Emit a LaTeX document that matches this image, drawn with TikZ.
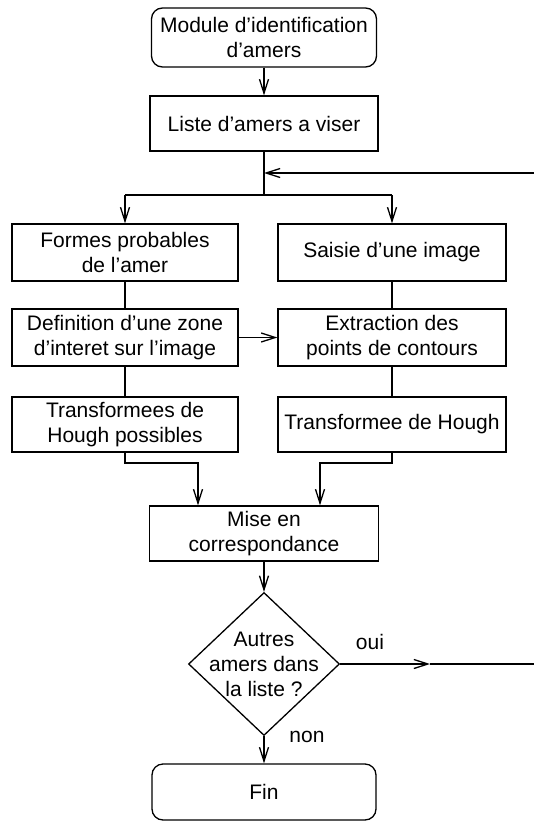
\documentclass[tikz,border=0pt]{standalone}
\usepackage{fontspec}
\setmainfont{Liberation Sans}
\usetikzlibrary{shapes.geometric,arrows.meta}
\tikzset{
    boite/.style={draw, line width=1.3pt, minimum width=228pt, minimum height=56pt, align=center, inner sep=0pt},
    arrondi/.style={boite, rounded corners=11pt},
    losange/.style={draw, diamond, line width=1.3pt, minimum width=151pt, minimum height=143pt, inner sep=0pt},
    >={Straight Barb[length=14pt,width=9pt]},
}
\begin{document}
\begin{tikzpicture}[x=1pt, y=-1pt, line width=1.3pt, font=\fontsize{21}{25}\selectfont]
    \useasboundingbox (0,0) rectangle (534,822);
    % colonne centrale
    \node[arrondi, minimum width=225pt, minimum height=59pt] (start) at (264,37.5) {Module d’identification\\d’amers};
    \node[boite, minimum height=55pt] (liste) at (264,123.5) {Liste d’amers a viser};
    % colonne gauche
    \node[boite, minimum width=226pt, minimum height=57pt] (formes) at (125,252.5) {Formes probables\\de l’amer};
    \node[boite, minimum width=226pt, minimum height=57pt] (definition) at (125,337.5) {Definition d’une zone\\d’interet sur l’image};
    \node[boite, minimum width=226pt, minimum height=55pt] (transfos) at (125,424.5) {Transformees de\\Hough possibles};
    % colonne droite
    \node[boite, minimum width=228pt, minimum height=57pt] (saisie) at (392,252.5) {Saisie d’une image};
    \node[boite, minimum width=228pt, minimum height=57pt] (extraction) at (392,337.5) {Extraction des\\points de contours};
    \node[boite, minimum width=228pt, minimum height=55pt] (hough) at (392,424.5) {Transformee de Hough};
    % fin du traitement
    \node[boite, minimum width=229pt, minimum height=55pt] (mise) at (264,533.5) {Mise en\\correspondance};
    \node[losange, label={[align=center]center:Autres\\amers dans\\la liste ?}] (test) at (264,664) {};
    \node[arrondi, minimum width=224pt, minimum height=56pt] (fin) at (264,792) {Fin};
    \node (lbloui) at (370,642) {oui};
    \node (lblnon) at (307,737) {non};

    \coordinate (split) at (264,195);
    \coordinate (retour) at (534,173);
    \coordinate (jg) at (198,463);
    \coordinate (jd) at (320,463);
    \coordinate (oui) at (430,664);
    \coordinate (sortie) at (534,664);

    \draw[->] (start) -- (liste);
    \draw (liste) -- (split);
    \draw[->] (retour) -- (retour -| liste);
    \draw (split -| formes) -- (split -| saisie);
    \draw[->] (split -| formes) -- (formes);
    \draw[->] (split -| saisie) -- (saisie);
    \draw (formes) -- (definition);
    \draw (definition) -- (transfos);
    \draw (saisie) -- (extraction);
    \draw (extraction) -- (hough);
    \draw[->] (definition) -- (extraction);
    \draw[->] (transfos.south) |- (jg) -- (jg |- mise.north);
    \draw[->] (hough.south) |- (jd) -- (jd |- mise.north);
    \draw[->] (mise) -- (test);
    \draw[->] (test.east) -- (oui);
    \draw (oui) -- (sortie);
    \draw[->] (test) -- (fin);
\end{tikzpicture}
\end{document}
